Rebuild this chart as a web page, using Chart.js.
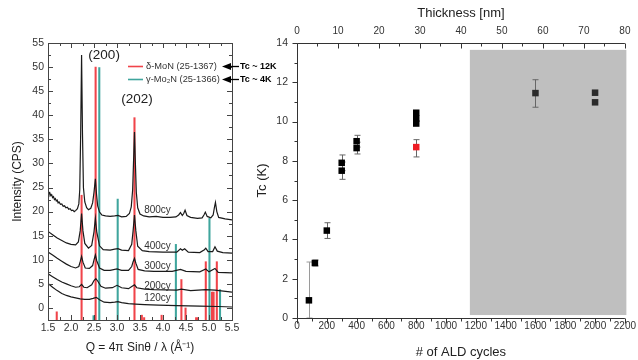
<!DOCTYPE html>
<html><head><meta charset="utf-8">
<script src="https://cdn.jsdelivr.net/npm/chart.js@4.4.1/dist/chart.umd.min.js"></script>
<style>
html,body{margin:0;padding:0;background:#fff;}
#wrap{position:relative;width:638px;height:360px;overflow:hidden;}
canvas{position:absolute;left:0;top:0;}
</style></head><body>
<div id="wrap"><canvas id="xrd" width="638" height="360"></canvas><canvas id="tc" width="638" height="360"></canvas></div>
<script>
// ---------------- DATA: left panel (XRD) ----------------
const qTicks = [1.5, 2.0, 2.5, 3.0, 3.5, 4.0, 4.5, 5.0, 5.5];
const intensityTicks = [0, 5, 10, 15, 20, 25, 30, 35, 40, 45, 50, 55];

const curveNames = ['800cy', '400cy', '300cy', '200cy', '120cy'];
const curveLabelY = [20.3, 12.8, 8.7, 4.6, 2.1];

const curve800 = [[1.50,24.1],[1.52,23.6],[1.54,23.9],[1.56,23.3],[1.58,23.5],[1.60,22.9],[1.62,23.1],[1.64,22.5],[1.66,22.7],[1.68,22.2],[1.70,22.4],[1.72,21.8],[1.74,22.0],[1.77,21.5],[1.80,21.6],[1.83,21.1],[1.86,21.2],[1.89,20.8],[1.92,20.9],[1.95,20.5],[1.98,20.6],[2.01,20.2],[2.04,20.3],[2.07,20.0],[2.10,20.2],[2.14,20.6],[2.17,21.6],[2.19,24.5],[2.21,36.0],[2.23,52.5],[2.25,36.0],[2.27,25.0],[2.30,22.0],[2.34,20.8],[2.38,20.4],[2.43,20.7],[2.47,21.8],[2.50,24.0],[2.53,26.8],[2.555,23.6],[2.58,21.2],[2.62,19.9],[2.67,19.3],[2.75,19.1],[2.85,19.0],[2.95,19.1],[3.02,19.2],[3.10,18.9],[3.20,19.0],[3.27,19.6],[3.31,21.0],[3.34,24.5],[3.36,30.5],[3.38,36.5],[3.40,30.0],[3.42,24.0],[3.45,20.8],[3.50,19.5],[3.58,19.1],[3.70,18.9],[3.85,19.0],[4.00,18.8],[4.15,18.8],[4.28,18.9],[4.34,19.3],[4.38,19.8],[4.42,19.2],[4.45,19.6],[4.48,20.3],[4.52,19.2],[4.60,18.8],[4.75,18.6],[4.85,18.7],[4.89,19.3],[4.92,19.9],[4.96,19.0],[5.04,18.7],[5.09,19.3],[5.12,21.0],[5.14,21.9],[5.17,20.0],[5.21,18.8],[5.35,18.5],[5.50,18.3]];
const curve400 = [[1.50,15.9],[1.60,15.2],[1.70,14.5],[1.80,14.0],[1.90,13.5],[2.00,13.2],[2.10,13.1],[2.16,13.7],[2.20,16.0],[2.23,19.6],[2.26,16.0],[2.30,13.4],[2.38,12.4],[2.45,13.0],[2.50,15.8],[2.53,18.6],[2.56,15.8],[2.62,12.9],[2.70,12.1],[2.85,12.0],[2.95,12.2],[3.02,12.3],[3.10,12.0],[3.25,11.9],[3.32,13.2],[3.35,16.0],[3.38,19.3],[3.41,16.0],[3.45,12.8],[3.55,11.9],[3.70,11.7],[4.00,11.6],[4.30,11.6],[4.38,12.3],[4.42,12.0],[4.47,12.3],[4.55,11.6],[4.80,11.5],[4.90,12.1],[4.93,12.4],[4.98,11.7],[5.08,11.7],[5.13,12.7],[5.18,11.8],[5.30,11.5],[5.50,11.4]];
const curve300 = [[1.50,11.6],[1.60,11.0],[1.70,10.3],[1.80,9.7],[1.90,9.1],[2.00,8.6],[2.10,8.3],[2.17,8.6],[2.20,9.6],[2.23,10.7],[2.26,9.5],[2.31,8.3],[2.40,8.2],[2.47,8.8],[2.50,10.0],[2.53,11.0],[2.56,9.8],[2.62,8.3],[2.72,7.8],[2.85,7.8],[3.00,8.1],[3.10,7.8],[3.25,7.8],[3.32,8.6],[3.35,9.6],[3.38,10.3],[3.41,9.3],[3.46,8.0],[3.60,7.7],[3.80,7.6],[4.20,7.6],[4.38,8.0],[4.50,7.6],[4.80,7.5],[4.93,8.1],[5.00,7.5],[5.13,8.2],[5.20,7.4],[5.50,7.3]];
const curve200 = [[1.50,7.1],[1.60,6.5],[1.70,5.9],[1.80,5.4],[1.90,5.0],[2.00,4.6],[2.10,4.3],[2.18,4.4],[2.23,4.9],[2.28,4.3],[2.35,4.2],[2.45,4.8],[2.50,5.7],[2.54,6.1],[2.58,5.6],[2.65,4.5],[2.75,4.1],[2.90,4.2],[3.00,4.7],[3.10,4.2],[3.25,4.0],[3.33,4.5],[3.38,4.8],[3.43,4.2],[3.60,3.9],[3.80,3.8],[4.30,3.7],[4.40,3.9],[4.60,3.6],[4.93,3.8],[5.13,3.7],[5.50,3.3]];
const curve120 = [[1.50,5.1],[1.60,4.3],[1.70,3.6],[1.80,3.0],[1.90,2.6],[2.00,2.3],[2.10,2.1],[2.20,1.9],[2.30,1.8],[2.40,1.8],[2.48,2.0],[2.55,2.2],[2.62,1.7],[2.72,1.2],[2.85,1.1],[2.95,1.2],[3.02,1.3],[3.10,1.1],[3.25,0.9],[3.40,0.8],[3.60,0.7],[3.90,0.6],[4.30,0.5],[4.80,0.4],[5.20,0.3],[5.50,0.2]];

const stickBase = -2.5;
const deltaQ = [1.69, 2.23, 2.535, 3.38, 3.54, 3.59, 3.97, 4.40, 4.49, 4.72, 4.76, 4.93, 5.065, 5.10, 5.17];
const deltaH = [-0.8, 23.4, 50.0, 39.5, -1.5, -2.0, -1.5, 5.9, 0.0, -2.0, -2.0, 9.6, 3.3, 3.3, 9.6];
const gammaQ = [2.49, 2.615, 3.015, 4.28, 5.01, 5.24];
const gammaH = [-1.6, 49.9, 22.6, 13.2, 18.6, 3.8];

// ---------------- DATA: right panel (Tc) ----------------
const cycleTicks = [0, 200, 400, 600, 800, 1000, 1200, 1400, 1600, 1800, 2000, 2200];
const thicknessTicks = [0, 10, 20, 30, 40, 50, 60, 70, 80];
const tcTicks = [0, 2, 4, 6, 8, 10, 12, 14];

const aldCycles = [80, 120, 200, 300, 300, 400, 400, 800, 800, 800, 1600, 2000, 2000];
const tcValues  = [0.9, 2.8, 4.45, 7.9, 7.5, 9.0, 8.65, 10.45, 10.15, 9.9, 11.45, 11.47, 10.98];
const tcLow     = [0.0, 2.65, 4.05, 7.5, 7.06, 8.7, 8.35, null, null, null, 10.73, null, null];
const tcHigh    = [2.85, 2.95, 4.85, 8.3, 7.94, 9.3, 8.95, null, null, null, 12.13, null, null];

const redCycles = [800];
const redTc = [8.7];
const redLow = [8.2];
const redHigh = [9.08];

const shadeCycles = [1160, 2210];
const shadeTc = [0.15, 13.65];

// ---------------- helpers ----------------
const FONT = '"Liberation Sans", Arial, Helvetica, sans-serif';
const pts = arr => arr.map(p => ({x: p[0], y: p[1]}));
const setTicks = vals => (s => { s.ticks = vals.map(v => ({value: v})); });

// ---------------- LEFT CHART ----------------
const xrdDecor = {
  id: 'xrdDecor',
  afterDatasetsDraw(chart) {
    const {ctx, chartArea: a, scales: {x, y}} = chart;
    ctx.save();
    ctx.strokeStyle = '#444';
    ctx.lineWidth = 1;
    ctx.strokeRect(Math.round(a.left) + 0.5, Math.round(a.top) + 0.5, Math.round(a.right - a.left), Math.round(a.bottom - a.top));
    ctx.beginPath();
    for (let i = 0; i <= 16; i++) {
      const q = 1.5 + 0.25 * i;
      const len = i % 2 === 0 ? 5 : 3;
      const px = Math.round(x.getPixelForValue(q)) + 0.5;
      ctx.moveTo(px, a.bottom); ctx.lineTo(px, a.bottom - len);
      ctx.moveTo(px, a.top); ctx.lineTo(px, a.top + len);
    }
    for (let i = 0; i <= 23; i++) {
      const v = -2.5 + 2.5 * i;
      const len = i % 2 === 1 ? 5 : 3;
      const py = Math.round(y.getPixelForValue(v)) + 0.5;
      ctx.moveTo(a.left, py); ctx.lineTo(a.left + len, py);
      ctx.moveTo(a.right, py); ctx.lineTo(a.right - len, py);
    }
    ctx.stroke();

    // curve labels
    ctx.fillStyle = '#333';
    ctx.font = '10px ' + FONT;
    ctx.textAlign = 'left';
    ctx.textBaseline = 'middle';
    curveNames.forEach((n, i) => ctx.fillText(n, x.getPixelForValue(3.59), y.getPixelForValue(curveLabelY[i])));

    // peak labels
    ctx.fillStyle = '#222';
    ctx.font = '13.5px ' + FONT;
    ctx.textAlign = 'center';
    ctx.fillText('(200)', x.getPixelForValue(2.72), y.getPixelForValue(52.5));
    ctx.fillText('(202)', x.getPixelForValue(3.435), y.getPixelForValue(43.4));

    // legend
    const rows = [
      {c: '#f0444a', t: 'δ-MoN (25-1367)', tc: 'Tc ~ 12K', yy: 66.5},
      {c: '#3fa59d', t: 'γ-Mo₂N (25-1366)', tc: 'Tc ~ 4K', yy: 79.5}
    ];
    rows.forEach(r => {
      ctx.strokeStyle = r.c; ctx.lineWidth = 1.6;
      ctx.beginPath(); ctx.moveTo(128, r.yy); ctx.lineTo(143, r.yy); ctx.stroke();
      ctx.fillStyle = '#333'; ctx.font = '9.3px ' + FONT; ctx.textAlign = 'left';
      ctx.fillText(r.t, 146, r.yy);
      // arrow
      ctx.fillStyle = '#000'; ctx.strokeStyle = '#000'; ctx.lineWidth = 1.3;
      ctx.beginPath(); ctx.moveTo(222, r.yy); ctx.lineTo(231, r.yy - 3.5); ctx.lineTo(231, r.yy + 3.5); ctx.closePath(); ctx.fill();
      ctx.beginPath(); ctx.moveTo(230, r.yy); ctx.lineTo(239, r.yy); ctx.stroke();
      ctx.font = 'bold 9px ' + FONT;
      ctx.fillText(r.tc, 240, r.yy);
    });
    ctx.restore();
  }
};

const curveSets = [curve800, curve400, curve300, curve200, curve120].map((c, i) => ({
  type: 'line', label: curveNames[i], data: pts(c), order: 1,
  borderColor: '#1a1a1a', borderWidth: 1.2, pointRadius: 0, tension: 0, fill: false
}));
const stickSet = (qs, hs, col, name) => ({
  type: 'bar', label: name, order: 5,
  data: qs.map((q, i) => ({x: q, y: [stickBase, hs[i]]})),
  backgroundColor: col, borderWidth: 0, barThickness: 1.4, grouped: false
});

new Chart(document.getElementById('xrd'), {
  type: 'line',
  data: { datasets: [...curveSets, stickSet(deltaQ, deltaH, '#f0444a', 'δ-MoN'), stickSet(gammaQ, gammaH, '#3fa59d', 'γ-Mo2N')] },
  options: {
    responsive: false, animation: false, devicePixelRatio: 1,
    layout: { padding: { left: 0, top: 43, right: 406, bottom: 0 } },
    plugins: { legend: { display: false }, tooltip: { enabled: false } },
    scales: {
      x: {
        type: 'linear', position: 'bottom', min: 1.5, max: 5.5, offset: false,
        afterFit: s => { s.height = 40; },
        afterBuildTicks: setTicks(qTicks),
        grid: { display: false, drawTicks: false }, border: { display: false },
        ticks: { padding: 2, color: '#333', font: { family: FONT, size: 10.5 }, maxRotation: 0, autoSkip: false, callback: v => v.toFixed(1) },
        title: { display: true, text: 'Q = 4π Sinθ / λ (Å⁻¹)', color: '#222', font: { family: FONT, size: 12 }, padding: { top: 0, bottom: 4.8 } }
      },
      y: {
        type: 'linear', position: 'left', min: -2.5, max: 55,
        afterFit: s => { s.width = 48; },
        afterBuildTicks: setTicks(intensityTicks),
        grid: { display: false, drawTicks: false }, border: { display: false },
        ticks: { padding: 4, color: '#333', font: { family: FONT, size: 10.5 }, autoSkip: false },
        title: { display: true, text: 'Intensity (CPS)', color: '#222', font: { family: FONT, size: 12 }, padding: { top: 10.8, bottom: 0 } }
      }
    }
  },
  plugins: [xrdDecor]
});

// ---------------- RIGHT CHART ----------------
const tcDecor = {
  id: 'tcDecor',
  beforeDatasetsDraw(chart) {
    const {ctx, chartArea: a, scales: {x, x2, y}} = chart;
    ctx.save();
    // shaded region
    ctx.fillStyle = '#bfbfbf';
    const sx1 = x.getPixelForValue(shadeCycles[0]), sx2 = x.getPixelForValue(shadeCycles[1]);
    const sy1 = y.getPixelForValue(shadeTc[1]), sy2 = y.getPixelForValue(shadeTc[0]);
    ctx.fillRect(sx1, sy1, sx2 - sx1, sy2 - sy1);
    // error bars
    const bar = (cx, lo, hi, col) => {
      if (lo == null || hi == null) return;
      const px = Math.round(x.getPixelForValue(cx)) + 0.5;
      const p1 = y.getPixelForValue(lo), p2 = y.getPixelForValue(hi);
      ctx.strokeStyle = col; ctx.lineWidth = 1;
      ctx.beginPath();
      ctx.moveTo(px, p1); ctx.lineTo(px, p2);
      ctx.moveTo(px - 3, p2); ctx.lineTo(px + 3, p2);
      ctx.moveTo(px - 3, p1); ctx.lineTo(px + 3, p1);
      ctx.stroke();
    };
    aldCycles.forEach((c, i) => bar(c, tcLow[i], tcHigh[i], i === 0 ? '#9a9a9a' : '#666'));
    redCycles.forEach((c, i) => bar(c, redLow[i], redHigh[i], '#666'));
    // axes
    ctx.strokeStyle = '#333'; ctx.lineWidth = 1;
    const L = Math.round(a.left) + 0.5, B = Math.round(a.bottom) + 0.5, T = Math.round(a.top) + 0.5, R = a.right;
    ctx.beginPath();
    ctx.moveTo(L, T); ctx.lineTo(L, B); ctx.lineTo(R, B);
    ctx.moveTo(L, T); ctx.lineTo(R, T);
    for (let i = 0; i <= 22; i++) {
      const v = 100 * i, len = i % 2 === 0 ? 5 : 3;
      const px = Math.round(x.getPixelForValue(v)) + 0.5;
      ctx.moveTo(px, B); ctx.lineTo(px, B + len);
    }
    for (let i = 0; i <= 16; i++) {
      const v = 5 * i, len = i % 2 === 0 ? 5 : 3;
      const px = Math.round(x2.getPixelForValue(v)) + 0.5;
      ctx.moveTo(px, T); ctx.lineTo(px, T + len);
    }
    for (let i = 0; i <= 14; i++) {
      const len = i % 2 === 0 ? 5 : 3;
      const py = Math.round(y.getPixelForValue(i)) + 0.5;
      ctx.moveTo(L, py); ctx.lineTo(L - len, py);
    }
    ctx.stroke();
    ctx.restore();
  }
};

new Chart(document.getElementById('tc'), {
  type: 'scatter',
  data: {
    datasets: [
      { label: 'Tc', data: aldCycles.map((c, i) => ({x: c, y: tcValues[i]})),
        pointStyle: 'rect', pointRadius: 4.6, borderWidth: 0,
        backgroundColor: aldCycles.map(c => c > shadeCycles[0] ? '#2b2b2b' : '#000'),
        pointBackgroundColor: aldCycles.map(c => c > shadeCycles[0] ? '#2b2b2b' : '#000') },
      { label: 'Tc red', data: redCycles.map((c, i) => ({x: c, y: redTc[i]})),
        pointStyle: 'rect', pointRadius: 4.6, borderWidth: 0, backgroundColor: '#ee1c24', pointBackgroundColor: '#ee1c24' }
    ]
  },
  options: {
    responsive: false, animation: false, devicePixelRatio: 1,
    layout: { padding: { left: 250, top: 0, right: 11, bottom: 0 } },
    plugins: { legend: { display: false }, tooltip: { enabled: false } },
    scales: {
      x: {
        type: 'linear', position: 'bottom', min: 0, max: 2200,
        afterFit: s => { s.height = 42; },
        afterBuildTicks: setTicks(cycleTicks),
        grid: { display: false, drawTicks: false }, border: { display: false },
        ticks: { padding: 2, color: '#333', font: { family: FONT, size: 10 }, maxRotation: 0, autoSkip: false, callback: v => String(v) },
        title: { display: true, text: '# of ALD cycles', color: '#222', font: { family: FONT, size: 13 }, padding: { top: 0, bottom: 0 } }
      },
      x2: {
        type: 'linear', position: 'top', min: 0, max: 80,
        afterFit: s => { s.height = 43; },
        afterBuildTicks: setTicks(thicknessTicks),
        grid: { display: false, drawTicks: false }, border: { display: false },
        ticks: { padding: 6, color: '#333', font: { family: FONT, size: 10 }, maxRotation: 0, autoSkip: false, callback: v => String(v) },
        title: { display: true, text: 'Thickness [nm]', color: '#222', font: { family: FONT, size: 13 }, padding: { top: 6, bottom: 0 } }
      },
      y: {
        type: 'linear', position: 'left', min: 0, max: 14,
        afterFit: s => { s.width = 47; },
        afterBuildTicks: setTicks(tcTicks),
        grid: { display: false, drawTicks: false }, border: { display: false },
        ticks: { padding: 9, color: '#333', font: { family: FONT, size: 10.5 }, autoSkip: false },
        title: { display: true, text: 'Tc (K)', color: '#222', font: { family: FONT, size: 13 }, padding: { top: 5, bottom: 0 } }
      }
    }
  },
  plugins: [tcDecor]
});
</script>
</body></html>
